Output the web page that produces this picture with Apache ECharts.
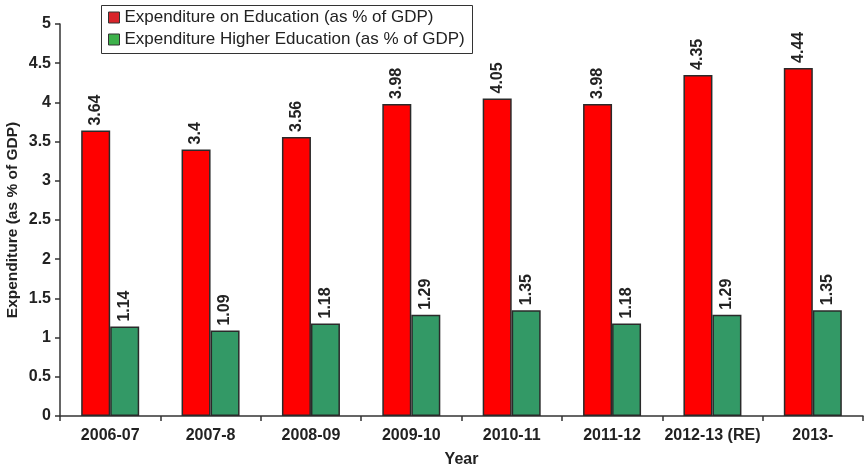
<!DOCTYPE html>
<html>
<head>
<meta charset="utf-8">
<script src="https://cdn.jsdelivr.net/npm/echarts@6/dist/echarts.min.js"></script>
<style>
html,body{margin:0;padding:0;background:#fff;}
#chart{width:865px;height:467px;}
</style>
</head>
<body>
<div id="chart"></div>
<script>
// Fiscal years on the category axis
const years = ['2006-07', '2007-8', '2008-09', '2009-10', '2010-11', '2011-12', '2012-13 (RE)', '2013-'];
// Total spending on education, % of GDP
const educationTotal = [3.64, 3.4, 3.56, 3.98, 4.05, 3.98, 4.35, 4.44];
// Spending on higher education, % of GDP
const educationHigher = [1.14, 1.09, 1.18, 1.29, 1.35, 1.18, 1.29, 1.35];
const yTicks = [0, 0.5, 1, 1.5, 2, 2.5, 3, 3.5, 4, 4.5, 5];

const FONT = '"Liberation Sans", Arial, sans-serif';
const chart = echarts.init(document.getElementById('chart'), null, {renderer: 'canvas'});

const valueLabel = {
  show: true,
  position: 'top',
  rotate: 90,
  align: 'left',
  verticalAlign: 'middle',
  distance: 5,
  fontFamily: FONT,
  fontWeight: 'bold',
  fontSize: 16,
  color: '#222'
};

chart.setOption({
  animation: false,
  textStyle: {fontFamily: FONT},
  grid: {left: 60, right: 2, top: 24, bottom: 51, containLabel: false, outerBoundsMode: 'none'},
  // legend frame
  graphic: [{
    type: 'rect',
    left: 101,
    top: 5,
    shape: {width: 371, height: 48},
    style: {fill: '#fff', stroke: '#333', lineWidth: 1},
    z: 0
  }],
  legend: {
    orient: 'vertical',
    left: 108,
    top: 9,
    padding: 0,
    itemGap: 5,
    itemWidth: 11,
    itemHeight: 11,
    icon: 'rect',
    z: 10,
    textStyle: {fontFamily: FONT, fontSize: 17, color: '#222'},
    data: [
      {name: 'Expenditure on Education (as % of GDP)', itemStyle: {color: '#d8242b', borderColor: '#333', borderWidth: 1}},
      {name: 'Expenditure Higher Education (as % of GDP)', itemStyle: {color: '#3db14b', borderColor: '#333', borderWidth: 1}}
    ]
  },
  xAxis: {
    type: 'category',
    data: years,
    name: 'Year',
    nameLocation: 'middle',
    nameGap: 36,
    nameTextStyle: {fontFamily: FONT, fontWeight: 'bold', fontSize: 16, color: '#222'},
    axisLine: {lineStyle: {color: '#333', width: 1.5}},
    axisTick: {show: true, length: 5, lineStyle: {color: '#333', width: 1.5}},
    axisLabel: {fontFamily: FONT, fontWeight: 'bold', fontSize: 16, color: '#222', margin: 12, interval: 0}
  },
  yAxis: {
    type: 'value',
    min: 0,
    max: 5,
    interval: 0.5,
    name: 'Expenditure (as % of GDP)',
    nameLocation: 'middle',
    nameGap: 39,
    nameMoveOverlap: false,
    nameRotate: 90,
    nameTextStyle: {fontFamily: FONT, fontWeight: 'bold', fontSize: 15.5, color: '#222'},
    axisLine: {show: true, lineStyle: {color: '#333', width: 1.5}},
    axisTick: {show: true, length: 5, lineStyle: {color: '#333', width: 1.5}},
    splitLine: {show: false},
    axisLabel: {
      fontFamily: FONT, fontWeight: 'bold', fontSize: 16, color: '#222', margin: 9,
      formatter: v => yTicks.includes(v) ? String(v) : ''
    }
  },
  series: [
    {
      name: 'Expenditure on Education (as % of GDP)',
      type: 'bar',
      data: educationTotal,
      barWidth: 29,
      barGap: '0%',
      itemStyle: {color: '#ff0000', borderColor: '#2a2a2a', borderWidth: 1.5},
      label: valueLabel
    },
    {
      name: 'Expenditure Higher Education (as % of GDP)',
      type: 'bar',
      data: educationHigher,
      barWidth: 29,
      barGap: '0%',
      itemStyle: {color: '#339966', borderColor: '#2a2a2a', borderWidth: 1.5},
      label: valueLabel
    }
  ]
});
</script>
</body>
</html>
